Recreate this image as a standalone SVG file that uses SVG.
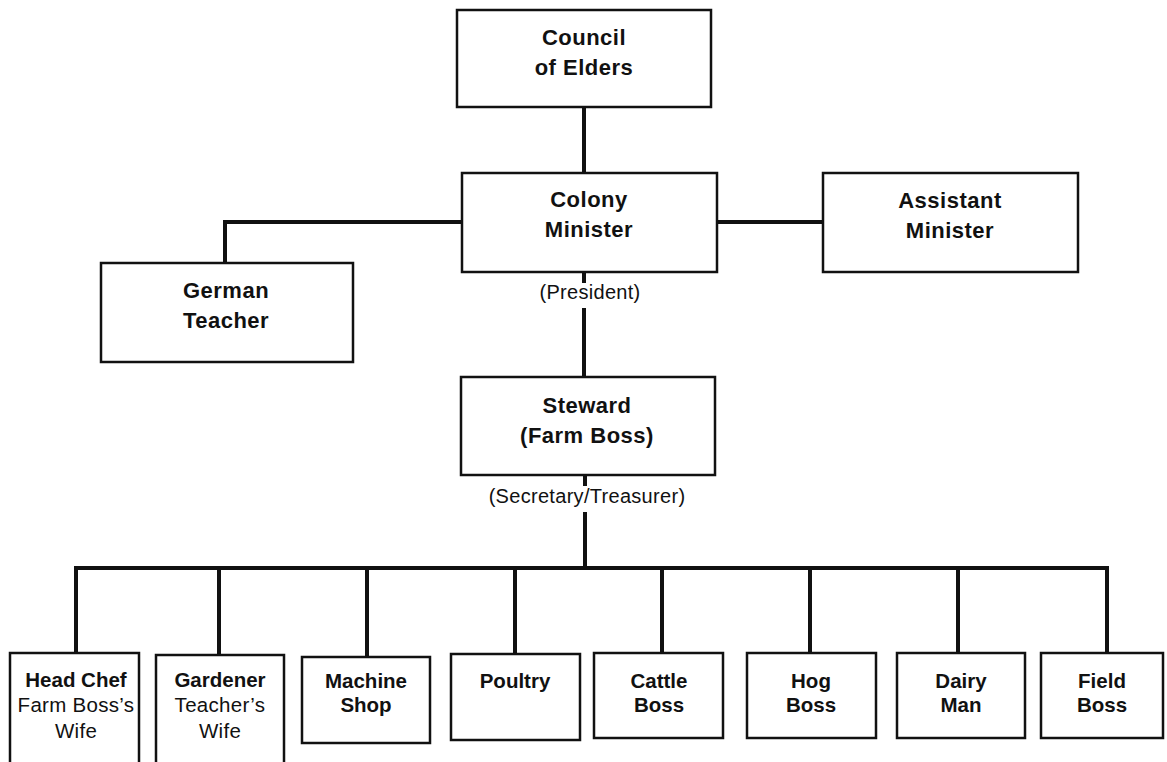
<svg xmlns="http://www.w3.org/2000/svg" width="1167" height="762" viewBox="0 0 1167 762">
<style>
.box{fill:#fff;stroke:#111;stroke-width:2.5}
.con{fill:none;stroke:#111;stroke-width:4;stroke-linecap:butt}
.t{font-family:"Liberation Sans",Arial,sans-serif;font-weight:bold;font-size:22px;fill:#111;text-anchor:middle;letter-spacing:0.5px}
.s{font-family:"Liberation Sans",Arial,sans-serif;font-weight:bold;font-size:20.5px;fill:#111;text-anchor:middle}
.r{font-family:"Liberation Sans",Arial,sans-serif;font-size:20.5px;fill:#111;text-anchor:middle;letter-spacing:0.3px}
.lbl{font-family:"Liberation Sans",Arial,sans-serif;font-size:20px;fill:#111;text-anchor:middle;letter-spacing:0.3px}
</style>
<rect width="1167" height="762" fill="#fff"/>
<g id="connectors">
<path class="con" d="M584,107 V173"/>
<path class="con" d="M717,222 H823"/>
<path class="con" d="M462,222 H225 V263"/>
<path class="con" d="M584,272 V283"/>
<path class="con" d="M584,308 V377"/>
<path class="con" d="M585,475 V486"/>
<path class="con" d="M585,512 V568"/>
<path class="con" d="M76,568 H1107"/>
<path class="con" d="M76,566 V653 M219,566 V655 M367,566 V657 M515,566 V654 M662,566 V653 M810,566 V653 M958,566 V653 M1107,566 V653"/>
</g>
<g id="council"><rect class="box" x="457" y="10" width="254" height="97"/><text class="t" x="584" y="45">Council</text><text class="t" x="584" y="75">of Elders</text></g>
<g id="colony"><rect class="box" x="462" y="173" width="255" height="99"/><text class="t" x="589" y="207">Colony</text><text class="t" x="589" y="237">Minister</text></g>
<g id="president"><text class="lbl" x="590" y="299">(President)</text></g>
<g id="assistant"><rect class="box" x="823" y="173" width="255" height="99"/><text class="t" x="950" y="208">Assistant</text><text class="t" x="950" y="238">Minister</text></g>
<g id="german"><rect class="box" x="101" y="263" width="252" height="99"/><text class="t" x="226" y="298">German</text><text class="t" x="226" y="328">Teacher</text></g>
<g id="steward"><rect class="box" x="461" y="377" width="254" height="98"/><text class="t" x="587" y="413">Steward</text><text class="t" x="587" y="443">(Farm Boss)</text></g>
<g id="secretary"><text class="lbl" x="587" y="503">(Secretary/Treasurer)</text></g>
<g id="headchef"><rect class="box" x="10" y="653" width="129" height="120"/><text class="s" x="76" y="687">Head Chef</text><text class="r" x="76" y="712">Farm Boss’s</text><text class="r" x="76" y="738">Wife</text></g>
<g id="gardener"><rect class="box" x="156" y="655" width="128" height="120"/><text class="s" x="220" y="687">Gardener</text><text class="r" x="220" y="712">Teacher’s</text><text class="r" x="220" y="738">Wife</text></g>
<g id="machine"><rect class="box" x="302" y="657" width="128" height="86"/><text class="s" x="366" y="688">Machine</text><text class="s" x="366" y="712">Shop</text></g>
<g id="poultry"><rect class="box" x="451" y="654" width="129" height="86"/><text class="s" x="515" y="688">Poultry</text></g>
<g id="cattle"><rect class="box" x="594" y="653" width="129" height="85"/><text class="s" x="659" y="688">Cattle</text><text class="s" x="659" y="712">Boss</text></g>
<g id="hog"><rect class="box" x="747" y="653" width="129" height="85"/><text class="s" x="811" y="688">Hog</text><text class="s" x="811" y="712">Boss</text></g>
<g id="dairy"><rect class="box" x="897" y="653" width="128" height="85"/><text class="s" x="961" y="688">Dairy</text><text class="s" x="961" y="712">Man</text></g>
<g id="field"><rect class="box" x="1041" y="653" width="122" height="85"/><text class="s" x="1102" y="688">Field</text><text class="s" x="1102" y="712">Boss</text></g>
</svg>
